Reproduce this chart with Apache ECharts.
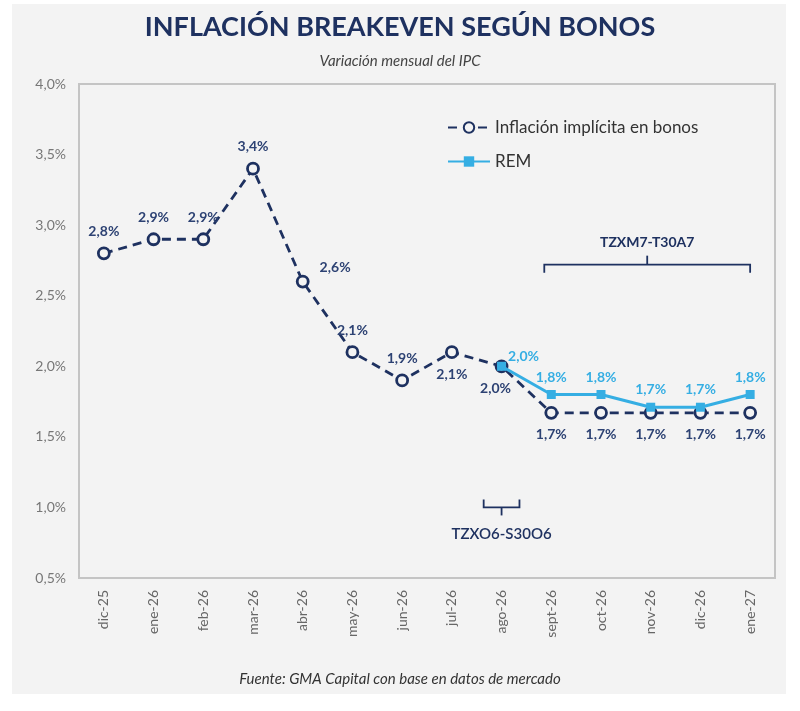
<!DOCTYPE html>
<html lang="es">
<head>
<meta charset="UTF-8">
<title>Inflación breakeven según bonos</title>
<script src="https://cdn.jsdelivr.net/npm/echarts@6/dist/echarts.min.js"></script>
<style>
  html, body { margin: 0; padding: 0; background: #fff; }
  #main { width: 800px; height: 711px; }
</style>
</head>
<body>
<div id="main"></div>
<script>
// data
const months = ['dic-25', 'ene-26', 'feb-26', 'mar-26', 'abr-26', 'may-26', 'jun-26',
    'jul-26', 'ago-26', 'sept-26', 'oct-26', 'nov-26', 'dic-26', 'ene-27'];
const breakeven = [2.8, 2.9, 2.9, 3.4, 2.6, 2.1, 1.9, 2.1, 2.0, 1.67, 1.67, 1.67, 1.67, 1.67];
const rem = [null, null, null, null, null, null, null, null, 2.0, 1.8, 1.8, 1.71, 1.71, 1.8];
const yTicks = [0.5, 1.0, 1.5, 2.0, 2.5, 3.0, 3.5, 4.0];

// where each label sits (style, not data)
const beLabelPos = ['top', 'top', 'top', 'top', 'right', 'top', 'top',
    'bottom', 'bottom', 'bottom', 'bottom', 'bottom', 'bottom', 'bottom'];

const NAVY = '#1e3160';
const SKY = '#35aee3';
const pct = v => v.toFixed(1).replace('.', ',') + '%';

const chart = echarts.init(document.getElementById('main'));

const beData = breakeven.map((v, i) => {
    const item = { value: v, label: { position: beLabelPos[i] } };
    if (beLabelPos[i] === 'right') item.label.offset = [2, -14];
    if (i === 8) item.label.offset = [-6, 0];
    return item;
});
const remData = rem.map((v, i) => {
    if (v === null) return null;
    const item = { value: v };
    if (i === 8) item.label = { position: 'right', offset: [-4, -10] };
    return item;
});

chart.setOption({
    backgroundColor: '#ffffff',
    textStyle: { fontFamily: 'Lato, "Open Sans", sans-serif' },
    title: [{
        text: 'INFLACIÓN BREAKEVEN SEGÚN BONOS',
        left: 'center', top: 9,
        textStyle: { color: NAVY, fontSize: 27, fontWeight: 'bold', fontFamily: 'Lato' }
    }, {
        text: 'Variación mensual del IPC',
        left: 'center', top: 49,
        textStyle: { color: '#444', fontSize: 15, fontStyle: 'italic', fontWeight: 'normal', fontFamily: 'Lato' }
    }, {
        text: 'Fuente: GMA Capital con base en datos de mercado',
        left: 'center', top: 667,
        textStyle: { color: '#333', fontSize: 15, fontStyle: 'italic', fontWeight: 'normal', fontFamily: 'Lato' }
    }],
    legend: {
        orient: 'vertical',
        left: 442, top: 114,
        itemGap: 17,
        itemWidth: 42,
        itemHeight: 13,
        textStyle: { color: '#333', fontSize: 17, fontFamily: 'Lato' },
        data: ['Inflación implícita en bonos', 'REM']
    },
    grid: {
        left: 79, right: 25, top: 84, bottom: 133,
        show: true, borderColor: '#c4c4c4', borderWidth: 2,
        backgroundColor: 'transparent'
    },
    xAxis: {
        type: 'category',
        data: months,
        boundaryGap: true,
        axisLine: { show: false },
        axisTick: { show: false },
        axisLabel: { rotate: 90, interval: 0, margin: 12, color: '#666', fontSize: 14 }
    },
    yAxis: {
        type: 'value',
        min: yTicks[0], max: yTicks[yTicks.length - 1], interval: 0.5,
        splitLine: { show: false },
        axisLine: { show: false },
        axisTick: { show: false },
        axisLabel: { formatter: pct, color: '#777', fontSize: 14, margin: 13 }
    },
    series: [{
        name: 'Inflación implícita en bonos',
        type: 'line',
        data: beData,
        symbol: 'circle',
        symbolSize: 11,
        z: 3,
        lineStyle: { color: NAVY, width: 2.8, type: [9, 6] },
        itemStyle: { color: '#f4f4f4', borderColor: NAVY, borderWidth: 2.8 },
        label: {
            show: true, color: '#2d4273', fontSize: 14, fontWeight: 'bold', distance: 8,
            formatter: p => pct(p.value)
        }
    }, {
        name: 'REM',
        type: 'line',
        data: remData,
        symbol: 'rect',
        symbolSize: 9,
        z: 4,
        lineStyle: { color: SKY, width: 3 },
        itemStyle: { color: SKY },
        label: {
            show: true, position: 'top', color: SKY, fontSize: 14, fontWeight: 'bold', distance: 6,
            formatter: p => pct(p.value)
        }
    }]
});

// panel background and bond brackets, placed through the axes
function drawExtras() {
    const px = (i, v) => chart.convertToPixel({ gridIndex: 0 }, [i, v]);
    const step = px(1, 1)[0] - px(0, 1)[0];

    const topL = px(9, 2.72)[0] - 7;
    const topR = px(13, 2.72)[0];
    const topY = px(9, 2.72)[1];
    const topMid = (topL + topR) / 2;

    const agoX = px(8, 1)[0];
    const lowY = px(8, 1.0)[1];
    const half = step * 0.36;

    const lineStyle = { stroke: NAVY, lineWidth: 1.8, fill: null };

    chart.setOption({
        graphic: [{
            type: 'rect', z: -10, silent: true,
            shape: { x: 12, y: 4, width: 774, height: 690 },
            style: { fill: '#f3f3f3' }
        }, {
            type: 'polyline', z: 5, silent: true,
            shape: { points: [[topL, topY + 8], [topL, topY], [topR, topY], [topR, topY + 8]] },
            style: lineStyle
        }, {
            type: 'line', z: 5, silent: true,
            shape: { x1: topMid, y1: topY, x2: topMid, y2: topY - 9 },
            style: lineStyle
        }, {
            type: 'text', z: 5, silent: true,
            x: topMid, y: topY - 22,
            style: { text: 'TZXM7-T30A7', fill: NAVY, font: 'bold 14px Lato', align: 'center', verticalAlign: 'middle' }
        }, {
            type: 'polyline', z: 5, silent: true,
            shape: { points: [[agoX - half, lowY - 8], [agoX - half, lowY], [agoX + half, lowY], [agoX + half, lowY - 8]] },
            style: lineStyle
        }, {
            type: 'line', z: 5, silent: true,
            shape: { x1: agoX, y1: lowY, x2: agoX, y2: lowY + 8 },
            style: lineStyle
        }, {
            type: 'text', z: 5, silent: true,
            x: agoX, y: lowY + 27,
            style: { text: 'TZXO6-S30O6', fill: NAVY, font: '600 15px Lato', align: 'center', verticalAlign: 'middle' }
        }]
    });
}
drawExtras();
</script>
</body>
</html>
